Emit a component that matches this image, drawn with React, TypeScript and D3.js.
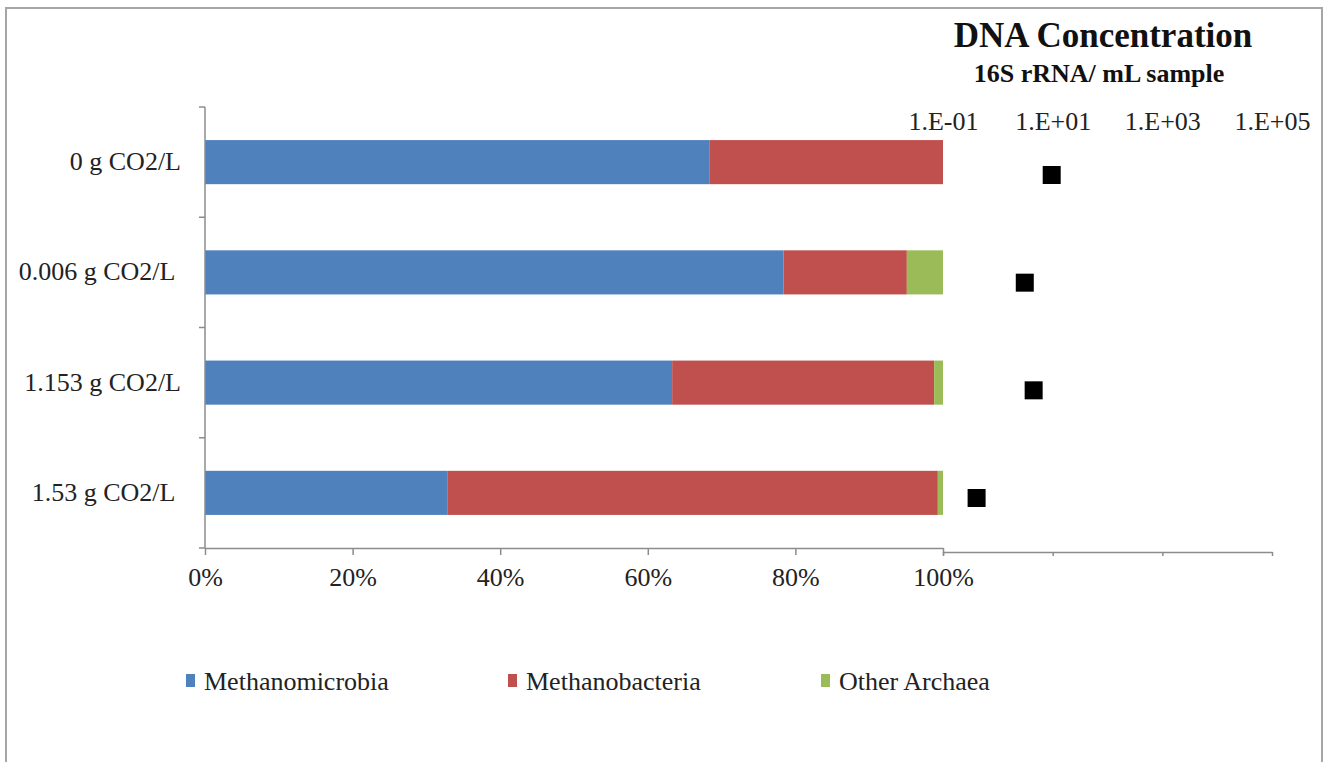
import React, { useEffect, useRef } from "react";
import * as d3 from "d3";

const categories = ["0 g CO2/L", "0.006 g CO2/L ", "1.153 g CO2/L", "1.53 g CO2/L "];
const seriesNames = ["Methanomicrobia", "Methanobacteria", "Other Archaea"];
const methanomicrobia = [68.4, 78.4, 63.3, 32.9];
const methanobacteria = [31.6, 16.7, 35.5, 66.4];
const otherArchaea = [0, 4.9, 1.2, 0.7];
const dnaConcentration = [9.6, 3.1, 4.5, 0.41];
const pctTicks = [0, 20, 40, 60, 80, 100];
const logTicks = [1e-1, 1e1, 1e3, 1e5];
const logTickLabels = ["1.E-01", "1.E+01", "1.E+03", "1.E+05"];

const W = 1328;
const H = 762;
const colors = ["#4F81BD", "#C0504D", "#9BBB59"];
const FONT = "'Liberation Serif', 'Times New Roman', serif";

export default function App() {
  const svgRef = useRef<SVGSVGElement | null>(null);

  useEffect(() => {
    const svg = d3.select(svgRef.current);
    svg.selectAll("*").remove();

    // outer frame
    svg
      .append("rect")
      .attr("x", 6)
      .attr("y", 8)
      .attr("width", 1316)
      .attr("height", 780)
      .attr("fill", "#fff")
      .attr("stroke", "#a6a6a6")
      .attr("stroke-width", 2);

    const left = 205;
    const right = 943;
    const top = 107;
    const bottom = 548;

    const x = d3.scaleLinear().domain([0, 100]).range([left, right]);
    const xLog = d3.scaleLog().domain([1e-1, 1e5]).range([right, 1272]);
    const y = d3
      .scaleBand<string>()
      .domain(categories)
      .range([top, bottom])
      .paddingInner(0.6)
      .paddingOuter(0.3);
    // the concentration series sits on its own (secondary) vertical axis
    const y2 = d3.scalePoint<string>().domain(categories).range([175, 498]);

    const rows = categories.map((c, i) => ({
      cat: c,
      [seriesNames[0]]: methanomicrobia[i],
      [seriesNames[1]]: methanobacteria[i],
      [seriesNames[2]]: otherArchaea[i],
    }));
    const stacked = d3.stack<any>().keys(seriesNames)(rows);

    svg
      .append("g")
      .selectAll("g")
      .data(stacked)
      .join("g")
      .attr("fill", (_d, i) => colors[i])
      .selectAll("rect")
      .data((d) => d)
      .join("rect")
      .attr("x", (d) => x(d[0]))
      .attr("y", (d) => y(d.data.cat)!)
      .attr("width", (d) => Math.max(0, x(d[1]) - x(d[0])))
      .attr("height", y.bandwidth());

    // y axis with ticks at band boundaries
    const axisColor = "#8c8c8c";
    const yAxis = svg.append("g");
    yAxis
      .append("line")
      .attr("x1", left)
      .attr("x2", left)
      .attr("y1", top)
      .attr("y2", bottom)
      .attr("stroke", axisColor)
      .attr("stroke-width", 1.5);
    const bounds = d3.range(categories.length + 1).map((i) => top + i * y.step());
    yAxis
      .selectAll("line.tick")
      .data(bounds)
      .join("line")
      .attr("class", "tick")
      .attr("x1", left - 6)
      .attr("x2", left)
      .attr("y1", (d) => d)
      .attr("y2", (d) => d)
      .attr("stroke", axisColor)
      .attr("stroke-width", 1.5);

    yAxis
      .selectAll("text")
      .data(categories)
      .join("text")
      .attr("x", 181)
      .attr("y", (d) => y(d)! + y.bandwidth() / 2 + 8)
      .attr("text-anchor", "end")
      .attr("font-family", FONT)
      .attr("font-size", 26)
      .attr("fill", "#222")
      .style("white-space", "pre")
      .text((d) => d);

    // percent axis
    const xAxis = svg
      .append("g")
      .attr("transform", `translate(0,${bottom})`)
      .call(
        d3
          .axisBottom(x)
          .tickValues(pctTicks)
          .tickFormat((d) => `${d}%`)
          .tickSize(7)
          .tickSizeOuter(0)
          .tickPadding(13)
      );
    xAxis.select(".domain").attr("stroke", axisColor).attr("stroke-width", 1.5);
    xAxis.selectAll(".tick line").attr("stroke", axisColor).attr("stroke-width", 1.5);
    xAxis
      .selectAll(".tick text")
      .attr("font-family", FONT)
      .attr("font-size", 26)
      .attr("fill", "#222");

    // log axis for DNA concentration
    const logAxis = svg
      .append("g")
      .attr("transform", `translate(0,552)`)
      .call(
        d3
          .axisBottom(xLog)
          .tickValues(logTicks)
          .tickFormat(() => "")
          .tickSize(4)
          .tickSizeOuter(0)
      );
    logAxis.select(".domain").attr("stroke", axisColor).attr("stroke-width", 1.5);
    logAxis.selectAll(".tick line").attr("stroke", axisColor).attr("stroke-width", 1.5);

    const logTop = svg
      .append("g")
      .attr("transform", `translate(0,130)`)
      .call(
        d3
          .axisTop(xLog)
          .tickValues(logTicks)
          .tickFormat((_d, i) => logTickLabels[i])
          .tickSize(0)
          .tickPadding(0)
      );
    logTop.select(".domain").remove();
    logTop
      .selectAll(".tick text")
      .attr("font-family", FONT)
      .attr("font-size", 26)
      .attr("fill", "#222")
      .attr("dy", 0);

    // DNA concentration markers
    const sq = 18;
    svg
      .append("g")
      .selectAll("rect")
      .data(dnaConcentration)
      .join("rect")
      .attr("x", (d) => xLog(d) - sq / 2)
      .attr("y", (_d, i) => y2(categories[i])! - sq / 2)
      .attr("width", sq)
      .attr("height", sq)
      .attr("fill", "#000");

    // titles
    svg
      .append("text")
      .attr("x", 1103)
      .attr("y", 47)
      .attr("text-anchor", "middle")
      .attr("font-family", FONT)
      .attr("font-weight", "bold")
      .attr("font-size", 35)
      .attr("fill", "#111")
      .text("DNA Concentration");
    svg
      .append("text")
      .attr("x", 1099)
      .attr("y", 82)
      .attr("text-anchor", "middle")
      .attr("font-family", FONT)
      .attr("font-weight", "bold")
      .attr("font-size", 26)
      .attr("fill", "#111")
      .text("16S rRNA/ mL sample");

    // legend
    const legendX = [186, 508, 821];
    const legend = svg
      .append("g")
      .selectAll("g")
      .data(seriesNames)
      .join("g")
      .attr("transform", (_d, i) => `translate(${legendX[i]},674)`);
    legend
      .append("rect")
      .attr("width", 9)
      .attr("height", 13)
      .attr("fill", (_d, i) => colors[i]);
    legend
      .append("text")
      .attr("x", 18)
      .attr("y", 16)
      .attr("font-family", FONT)
      .attr("font-size", 26)
      .attr("fill", "#222")
      .text((d) => d);
  }, []);

  return (
    <svg
      ref={svgRef}
      width={W}
      height={H}
      style={{ position: "absolute", left: 0, top: 0, background: "#fff" }}
    ></svg>
  );
}
